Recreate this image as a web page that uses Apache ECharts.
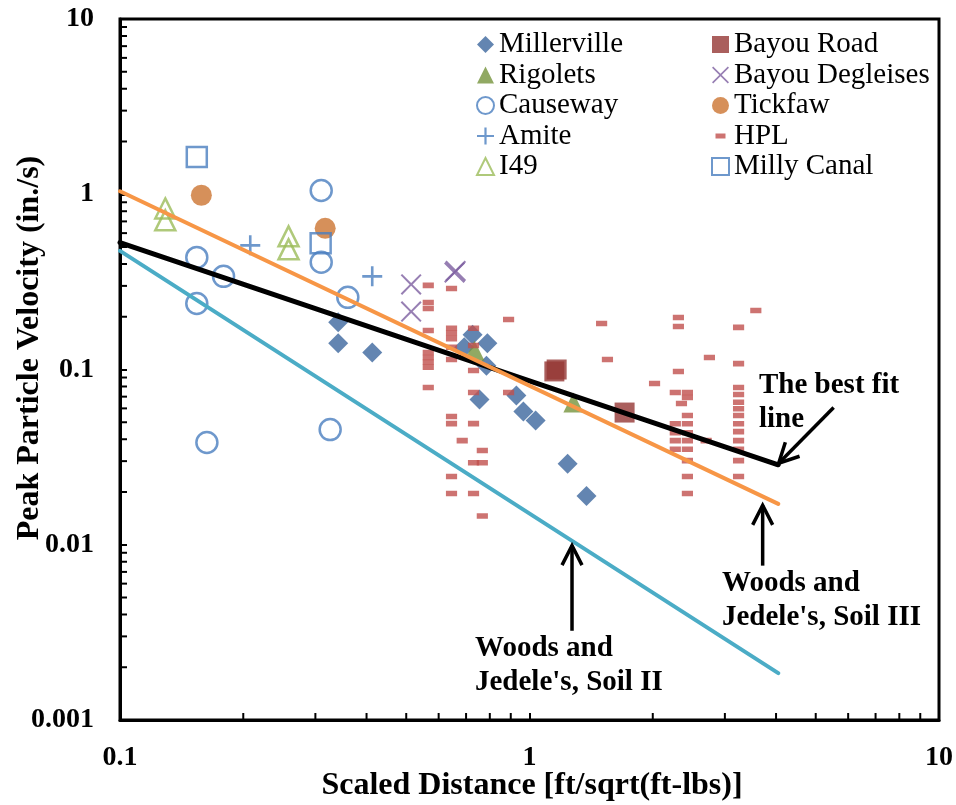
<!DOCTYPE html>
<html><head><meta charset="utf-8">
<script src="https://cdn.jsdelivr.net/npm/echarts@6/dist/echarts.min.js"></script>
<style>html,body{margin:0;padding:0;background:#fff}#c{width:956px;height:805px}</style>
</head><body><div id="c"></div>
<script>
// ---- tick labels ----
const X_TICK_LABELS = ['0.1', '1', '10'];
const Y_TICK_LABELS = ['0.001', '0.01', '0.1', '1', '10'];

// ---- data series [scaled distance, PPV] ----
const millerville = [[0.341,0.186],[0.341,0.141],[0.413,0.125],[0.726,0.158],[0.789,0.141],[0.693,0.134],[0.785,0.105],[0.755,0.0674],[0.929,0.071],[0.966,0.0575],[1.035,0.0511],[1.239,0.029],[1.378,0.019]];
const rigolets = [[0.734,0.128],[1.28,0.0648]];
const causeway = [[0.154,0.436],[0.179,0.34],[0.154,0.238],[0.163,0.0383],[0.31,1.05],[0.31,0.409],[0.36,0.258],[0.326,0.0454]];
const amite = [[0.208,0.511],[0.413,0.34]];
const i49 = [[0.129,0.83],[0.129,0.71],[0.258,0.575],[0.258,0.485]];
const bayouRoad = [[1.15,0.0975],[1.165,0.1],[1.707,0.0568]];
const bayouDegleises = [[0.514,0.306],[0.514,0.214],[0.656,0.358],[0.66,0.365]];
const tickfaw = [[0.158,0.987],[0.317,0.639]];
const hpl = [
  [0.566,0.302],[0.566,0.241],[0.566,0.223],[0.566,0.167],[0.566,0.125],[0.566,0.117],[0.566,0.110],[0.566,0.103],[0.566,0.0789],
  [0.645,0.29],[0.645,0.172],[0.645,0.161],[0.645,0.150],[0.645,0.134],[0.645,0.114],[0.645,0.0539],[0.645,0.0491],[0.645,0.0245],[0.645,0.0196],
  [0.685,0.0393],
  [0.73,0.172],[0.73,0.137],[0.73,0.0987],[0.73,0.0739],[0.73,0.0491],[0.73,0.0294],[0.73,0.0196],
  [0.767,0.0345],[0.767,0.0294],[0.767,0.0146],
  [0.889,0.193],[0.889,0.0739],
  [1.5,0.183],[1.55,0.114],
  [2.02,0.0832],
  [2.31,0.198],[2.31,0.176],[2.31,0.0975],
  [2.27,0.0739],[2.27,0.049],[2.27,0.0436],[2.27,0.0393],[2.27,0.0351],
  [2.43,0.0739],[2.43,0.0692],[2.43,0.0546],[2.43,0.049],[2.43,0.0436],[2.43,0.0393],[2.43,0.0351],[2.43,0.0302],[2.43,0.0245],[2.43,0.0196],
  [2.35,0.064],[2.7,0.0393],[2.75,0.117],
  [3.24,0.174],[3.24,0.108],[3.24,0.0789],[3.24,0.072],[3.24,0.065],[3.24,0.0597],[3.24,0.0546],[3.24,0.049],[3.24,0.0442],[3.24,0.0393],[3.24,0.0351],[3.24,0.0302],[3.24,0.0245],
  [3.57,0.217]
];
const millyCanal = [[0.154,1.63],[0.309,0.525]];

// ---- fitted / reference lines ----
const bestFit = [[0.1,0.53],[4.05,0.0286]];
const soil3 = [[0.1,1.04],[4.05,0.0171]];
const soil2 = [[0.1,0.475],[4.05,0.00185]];

// ---- annotation arrows [tipX, tipY, tailX, tailY] ----
const arrows = [[4.06,0.0292,5.53,0.0607],[3.71,0.0168,3.71,0.0076],[1.27,0.0099,1.27,0.00323]];

const FONT = '"Liberation Serif","Times New Roman",serif';
const PLUS = 'path://M8.7,0h2.6v8.7h8.7v2.6h-8.7v8.7h-2.6v-8.7h-8.7v-2.6h8.7z';
const CROSS = 'path://M0,1.4L1.4,0L10,8.6L18.6,0L20,1.4L11.4,10L20,18.6L18.6,20L10,11.4L1.4,20L0,18.6L8.6,10Z';
const DASH = 'path://M0,0L0.01,0Z M3.5,6h10v5h-10z M17,17L16.99,17Z';

// minor tick positions (derived from axis decades)
const minorTicks = [];
for (let k = -1; k <= 0; k++) for (let m = 2; m <= 9; m++) minorTicks.push([m * Math.pow(10, k), 0.001, 0]);
for (let k = -3; k <= 0; k++) for (let m = 2; m <= 9; m++) minorTicks.push([0.1, m * Math.pow(10, k), 1]);

function scatter(name, data, symbol, size, itemStyle, z) {
  return { name, type: 'scatter', data, symbol, symbolSize: size, itemStyle, z: z || 3 };
}
function line(data, color, width, z) {
  return { type: 'line', data, symbol: 'none', lineStyle: { color, width, cap: 'round' }, z, silent: true };
}
const legendText = { fontFamily: FONT, fontSize: 29, lineHeight: 29, color: '#000' };

const chart = echarts.init(document.getElementById('c'));
chart.setOption({
  animation: false,
  backgroundColor: '#fff',
  grid: { left: 120, top: 19, right: 17, bottom: 85, show: true, borderColor: '#000', borderWidth: 3 },
  xAxis: {
    type: 'log', logBase: 10, min: 0.1, max: 10,
    axisLine: { lineStyle: { color: '#000', width: 3 } },
    axisTick: { inside: true, length: 7, lineStyle: { color: '#000', width: 2 } },
    splitLine: { show: false },
    axisLabel: { margin: 24, color: '#000', fontFamily: FONT, fontSize: 28, fontWeight: 'bold',
      formatter: v => X_TICK_LABELS[Math.round(Math.log10(v)) + 1] }
  },
  yAxis: {
    type: 'log', logBase: 10, min: 0.001, max: 10,
    axisLine: { lineStyle: { color: '#000', width: 3 } },
    axisTick: { inside: true, length: 7, lineStyle: { color: '#000', width: 2 } },
    splitLine: { show: false },
    axisLabel: { margin: 26, color: '#000', fontFamily: FONT, fontSize: 28, fontWeight: 'bold',
      formatter: v => Y_TICK_LABELS[Math.round(Math.log10(v)) + 3] }
  },
  legend: [
    { data: ['Millerville','Rigolets','Causeway','Amite','I49'], orient: 'vertical', left: 471, top: 25,
      itemWidth: 17, itemHeight: 17, itemGap: 1.5, selectedMode: false, textStyle: legendText },
    { data: ['Bayou Road','Bayou Degleises','Tickfaw','HPL','Milly Canal'], orient: 'vertical', left: 706, top: 25,
      itemWidth: 17, itemHeight: 17, itemGap: 1.5, selectedMode: false, textStyle: legendText }
  ],
  graphic: [
    { type: 'text', x: 532, y: 786, style: { text: 'Scaled Distance [ft/sqrt(ft-lbs)]', font: 'bold 32px ' + FONT, fill: '#000', align: 'center', verticalAlign: 'middle' } },
    { type: 'text', x: 30, y: 348, rotation: Math.PI / 2, style: { text: 'Peak Particle Velocity (in./s)', font: 'bold 32px ' + FONT, fill: '#000', align: 'center', verticalAlign: 'middle' } },
    { type: 'text', left: 759, top: 369, style: { text: 'The best fit\nline', font: 'bold 29px ' + FONT, lineHeight: 34, fill: '#000' } },
    { type: 'text', left: 722, top: 567, style: { text: 'Woods and\nJedele\'s, Soil III', font: 'bold 29px ' + FONT, lineHeight: 34, fill: '#000' } },
    { type: 'text', left: 475, top: 632, style: { text: 'Woods and\nJedele\'s, Soil II', font: 'bold 29px ' + FONT, lineHeight: 34, fill: '#000' } }
  ],
  series: [
    scatter('Millerville', millerville, 'diamond', 20, { color: '#3C679E' }, 3),
    scatter('Bayou Road', bayouRoad, 'rect', 20, { color: '#953735' }, 3),
    scatter('Rigolets', rigolets, 'triangle', 20, { color: '#76933C' }, 3),
    scatter('Bayou Degleises', bayouDegleises, CROSS, 21, { color: '#7D5FA0' }, 3),
    scatter('Causeway', causeway, 'circle', 21, { color: 'rgba(255,255,255,0)', borderColor: '#4A7EBF', borderWidth: 2.5 }, 3),
    scatter('Tickfaw', tickfaw, 'circle', 21, { color: '#CC7431' }, 3),
    scatter('Amite', amite, PLUS, 20, { color: '#4A7EBF' }, 3),
    scatter('HPL', hpl, DASH, [19, 19], { color: '#C0504D' }, 4),
    scatter('I49', i49, 'triangle', 20, { color: 'rgba(255,255,255,0)', borderColor: '#9BBB59', borderWidth: 2.5 }, 3),
    scatter('Milly Canal', millyCanal, 'rect', 20, { color: 'rgba(255,255,255,0)', borderColor: '#4A7EBF', borderWidth: 2.5 }, 3),
    line(soil2, '#4BACC6', 4, 5),
    line(bestFit, '#000000', 5, 6),
    line(soil3, '#F79646', 4, 7),
    {
      type: 'custom', silent: true, z: 8, clip: false, data: arrows, encode: { x: 0, y: 1 },
      renderItem: (params, api) => {
        const tip = api.coord([api.value(0), api.value(1)]);
        const tail = api.coord([api.value(2), api.value(3)]);
        const ang = Math.atan2(tail[1] - tip[1], tail[0] - tip[0]);
        const L = 22, h = 27 * Math.PI / 180;
        const p1 = [tip[0] + L * Math.cos(ang + h), tip[1] + L * Math.sin(ang + h)];
        const p2 = [tip[0] + L * Math.cos(ang - h), tip[1] + L * Math.sin(ang - h)];
        return { type: 'group', children: [
          { type: 'line', shape: { x1: tail[0], y1: tail[1], x2: tip[0], y2: tip[1] }, style: { stroke: '#000', lineWidth: 3.5 } },
          { type: 'polyline', shape: { points: [p1, tip, p2] }, style: { stroke: '#000', lineWidth: 3.5, fill: null } }
        ] };
      }
    },
    {
      type: 'custom', silent: true, z: 9, clip: false, data: minorTicks, encode: { x: 0, y: 1 },
      renderItem: (params, api) => {
        const p = api.coord([api.value(0), api.value(1)]);
        const kind = api.value(2);
        const shape = kind === 0 ? { x1: p[0], y1: p[1], x2: p[0], y2: p[1] - 7 } : { x1: p[0], y1: p[1], x2: p[0] + 7, y2: p[1] };
        return { type: 'line', shape, style: { stroke: '#000', lineWidth: 2 } };
      }
    }
  ]
});
</script></body></html>
